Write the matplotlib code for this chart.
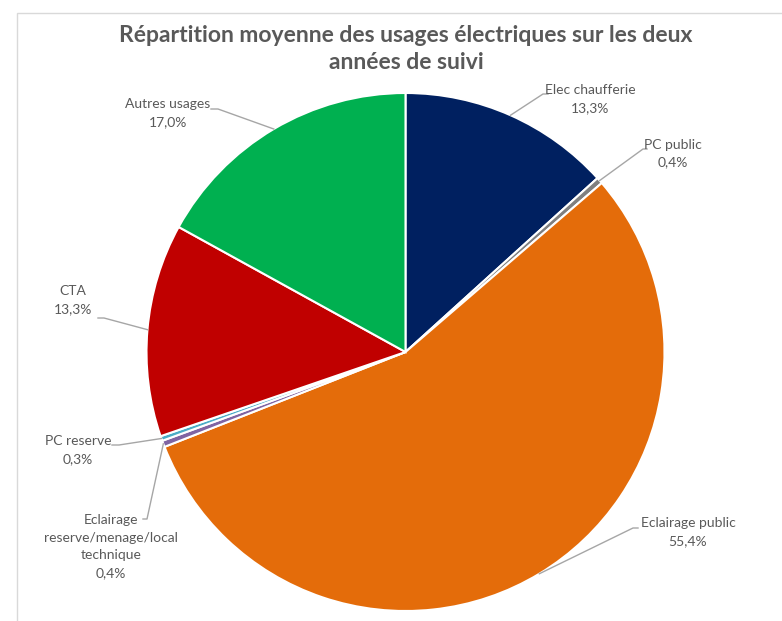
import matplotlib.pyplot as plt
import numpy as np
from matplotlib.patches import Rectangle

plt.rcParams['font.family'] = ['Lato', 'DejaVu Sans']

# data
labels = ['Elec chaufferie', 'PC public', 'Eclairage public',
          'Eclairage\nreserve/menage/local\ntechnique', 'PC reserve',
          'CTA', 'Autres usages']
values = [13.3, 0.4, 55.4, 0.4, 0.3, 13.3, 17.0]
colors = ['#002060', '#7F7F7F', '#E46C0A', '#8064A2', '#4BACC6',
          '#C00000', '#00B050']
title = "Répartition moyenne des usages électriques sur les deux\nannées de suivi"

# layout (pixels, y from top)
W, H = 782, 621
cx, cy, R = 405.5, 352, 259
lab_pos = [(590, 99), (673, 153.5), (688, 532), (111, 546.5),
           (78, 450), (73, 300), (168, 113)]
elbow = [(543, 94), (643, 149), (633, 528), (147, 519),
         (119, 445), (104, 318), (218, 109)]
stub = [(548, 94), (647, 149), (638, 528), (143, 519),
        (112, 445), (98, 318), (211, 109)]

fig = plt.figure(figsize=(W / 100, H / 100), dpi=100)
ax = fig.add_axes([0, 0, 1, 1])

wedges, _ = ax.pie(values, colors=colors, startangle=90, counterclock=False,
                   center=(cx, H - cy), radius=R,
                   wedgeprops=dict(edgecolor='white', linewidth=1.5))
ax.set_xlim(0, W)
ax.set_ylim(0, H)
ax.set_aspect('equal')
ax.axis('off')

# chart frame
ax.add_patch(Rectangle((17, -10), W, H - 13 + 10, fill=False,
                       edgecolor='#D9D9D9', linewidth=1))

for w, lab, v, p, e, s in zip(wedges, labels, values, lab_pos, elbow, stub):
    ang = np.deg2rad((w.theta1 + w.theta2) / 2)
    ex = cx + R * np.cos(ang)
    ey = (H - cy) + R * np.sin(ang)
    ax.plot([ex, e[0], s[0]], [ey, H - e[1], H - s[1]],
            color='#A6A6A6', linewidth=1, zorder=1)
    txt = lab + '\n' + ('%.1f%%' % v).replace('.', ',')
    ax.text(p[0], H - p[1], txt, ha='center', va='center',
            multialignment='center', fontsize=10, color='#595959',
            linespacing=1.55)

ax.text(W / 2 + 15, H - 49, title, ha='center', va='center', fontsize=16.5,
        fontweight='bold', color='#595959', linespacing=1.4)

fig.savefig('out.png', dpi=100)
